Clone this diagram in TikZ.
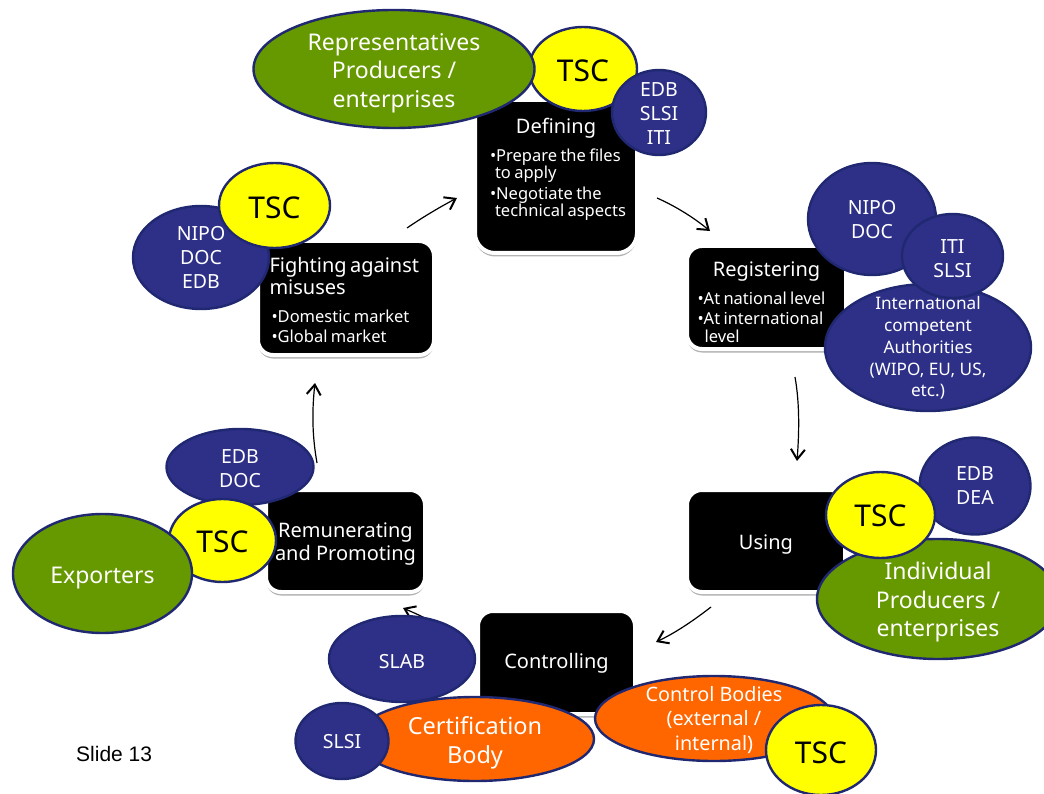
\documentclass[tikz,border=0pt]{standalone}
\usepackage{fontspec}
\setmainfont{Noto Sans}
\newfontfamily\slidefont{Liberation Sans}
\usetikzlibrary{shapes.geometric,arrows.meta,shadows}
\definecolor{navyfill}{HTML}{2E3087}
\definecolor{navyline}{HTML}{1F2870}
\definecolor{leaf}{HTML}{669900}
\definecolor{tang}{HTML}{FF6600}
\definecolor{sun}{HTML}{FFFF00}
\newcommand{\bodyfs}{\fontsize{16.5}{17}\selectfont}
\newcommand{\titlefs}{\fontsize{20}{22}\selectfont}
\newsavebox{\loweredbox}
\newcommand{\lowered}[2]{\sbox{\loweredbox}{\begin{tabular}{@{}c@{}}#2\end{tabular}}%
  \makebox[0pt]{\raisebox{\dimexpr-#1pt-.5\ht\loweredbox+.5\dp\loweredbox\relax}[0pt][0pt]{\usebox{\loweredbox}}}}
\tikzset{
  x=1pt,y=-1pt,
  stagebox/.style={rectangle,rounded corners=15pt,fill=black,draw=white,line width=4pt,text=white,
    general shadow={shadow xshift=0pt,shadow yshift=-3.5pt,fill=black!30},inner sep=0pt,align=left},
  oval/.style={ellipse,line width=2.4pt,inner sep=0pt,align=center,font=\fontsize{19.5}{24}\selectfont},
  blueoval/.style={oval,fill=navyfill,draw=navyline,text=white},
  greenoval/.style={oval,fill=leaf,draw=navyline,text=white,font=\fontsize{23}{28.5}\selectfont},
  orangeoval/.style={oval,fill=tang,draw=navyline,text=white},
  tscoval/.style={oval,fill=sun,draw=navyline,text=black,font=\fontsize{30}{34}\selectfont},
  flow/.style={-{Straight Barb[length=10pt,width=14pt,line width=2pt]},line width=1.2pt,black},
}
\begin{document}
\begin{tikzpicture}
\clip (0,0) rectangle (1044,794);
\useasboundingbox (0,0) rectangle (1044,794);
% arrow end points
\coordinate (a1s) at (657,198); \coordinate (a1e) at (710,231);
\coordinate (a2s) at (795,377); \coordinate (a2e) at (797,461);
\coordinate (a3s) at (711,607); \coordinate (a3e) at (656,642);
\coordinate (a4s) at (432,622); \coordinate (a4e) at (403,608);
\coordinate (a5s) at (317,463); \coordinate (a5e) at (315,383);
\coordinate (a6s) at (407,228); \coordinate (a6e) at (457,198);
\draw[flow] (a1s) .. controls (675,206) and (693,217) .. (a1e);
\draw[flow] (a2s) .. controls (800,405) and (799,435) .. (a2e);
\draw[flow] (a3s) .. controls (693,621) and (675,633) .. (a3e);
\draw[flow] (a4s) .. controls (422,616) and (412,612) .. (a4e);
\draw[flow] (a5s) .. controls (312,435) and (312,410) .. (a5e);
\draw[flow] (a6s) .. controls (423,217) and (440,207) .. (a6e);
% stage boxes
\node[stagebox,rounded corners=20pt,minimum width=162pt,minimum height=153pt,text width=150pt] (defining) at (556,176.5) {%
  \begin{minipage}[c][143pt][t]{150pt}\vspace{13pt}\centering{\titlefs Defining\par}\vspace{9.5pt}%
  \raggedright\bodyfs\hspace*{9pt}•Prepare the files\\\hspace*{14pt}to apply\\[4pt]\hspace*{9pt}•Negotiate the\\\hspace*{14pt}technical aspects\end{minipage}};
\node[stagebox,minimum width=176pt,minimum height=114pt,text width=165pt] (fighting) at (346,298) {%
  \begin{minipage}[c][104pt][t]{165pt}\vspace{11pt}\titlefs\hspace*{6pt}Fighting against\\\hspace*{6pt}misuses\par\vspace{11.5pt}%
  \bodyfs\hspace*{8pt}•Domestic market\\[3pt]\hspace*{8pt}•Global market\end{minipage}};
\node[stagebox,minimum width=159pt,minimum height=103pt,text width=150pt] (registering) at (766.5,297.5) {%
  \begin{minipage}[c][95pt][t]{150pt}\vspace{12pt}\centering{\titlefs Registering\par}\vspace{9.5pt}%
  \raggedright\bodyfs\hspace*{6pt}•At national level\\[3pt]\hspace*{6pt}•At international\\[1pt]\hspace*{13pt}level\end{minipage}};
\node[stagebox,minimum width=158pt,minimum height=102pt,align=center,font=\titlefs] (using) at (766,541) {\lowered{4}{Using}};
\node[stagebox,minimum width=159pt,minimum height=102pt,align=center,font=\fontsize{20}{23}\selectfont] (remunerating) at (345.5,541) {\lowered{3}{Remunerating\\and Promoting}};
\node[stagebox,minimum width=157pt,minimum height=103pt,align=center,font=\titlefs] (controlling) at (556.5,662.5) {\lowered{2}{Controlling}};
% ovals
\node[tscoval,minimum width=108pt,minimum height=84pt] (tsctop) at (583,69) {\lowered{6}{TSC}};
\node[greenoval,minimum width=281pt,minimum height=118pt] (reps) at (394,69) {\lowered{4}{Representatives\\Producers /\\enterprises}};
\node[blueoval,minimum width=94pt,minimum height=85pt] (edbtop) at (659,112.5) {\lowered{3}{EDB\\SLSI\\ITI}};
\node[blueoval,minimum width=136pt,minimum height=103pt] (nipoleft) at (201,257.5) {\lowered{2.5}{NIPO\\DOC\\EDB}};
\node[tscoval,minimum width=111pt,minimum height=85pt] (tscleft) at (274.5,205.5) {\lowered{6.4}{TSC}};
\node[blueoval,minimum width=128pt,minimum height=112pt] (nipo) at (872,219) {\lowered{2.5}{NIPO\\DOC}};
\node[blueoval,minimum width=206pt,minimum height=127pt,font=\fontsize{17.2}{21.7}\selectfont] (intl) at (928,347.5) {\lowered{1.5}{International\\competent\\Authorities\\(WIPO, EU, US,\\etc.)}};
\node[blueoval,minimum width=101pt,minimum height=84pt] (itislsi) at (952.5,256) {\lowered{4.5}{ITI\\SLSI}};
\node[blueoval,minimum width=111pt,minimum height=97pt] (edbdea) at (975,486) {\lowered{1.5}{EDB\\DEA}};
\node[greenoval,minimum width=242pt,minimum height=120pt] (indiv) at (938,599) {\lowered{3.5}{Individual\\Producers /\\enterprises}};
\node[tscoval,minimum width=109pt,minimum height=86pt] (tscusing) at (880.5,515) {\lowered{5}{TSC}};
\node[blueoval,minimum width=147pt,minimum height=76pt] (edbdoc) at (240,467) {\lowered{4}{EDB\\DOC}};
\node[tscoval,minimum width=107pt,minimum height=83pt] (tscrem) at (222.5,540.5) {\lowered{5}{TSC}};
\node[greenoval,minimum width=179pt,minimum height=119pt] (exporters) at (102.5,573.5) {\lowered{4}{Exporters}};
\node[blueoval,minimum width=146pt,minimum height=86pt] (slab) at (402,659) {\lowered{4.5}{SLAB}};
\node[orangeoval,minimum width=238pt,minimum height=84pt,font=\fontsize{23.5}{28.5}\selectfont] (cert) at (475,739) {\lowered{4.5}{Certification\\Body}};
\node[blueoval,minimum width=93pt,minimum height=76pt] (slsi) at (342,741) {\lowered{2.5}{SLSI}};
\node[orangeoval,minimum width=238pt,minimum height=85pt,font=\fontsize{19.8}{24.5}\selectfont] (control) at (714,718.5) {\lowered{2.5}{Control Bodies\\(external /\\internal)}};
\node[tscoval,minimum width=110pt,minimum height=90pt] (tscctrl) at (821,750) {\lowered{7}{TSC}};
\node[anchor=west,inner sep=0pt,font=\slidefont\fontsize{21}{24}\selectfont] (slide) at (76,754) {Slide 13};
\end{tikzpicture}
\end{document}
